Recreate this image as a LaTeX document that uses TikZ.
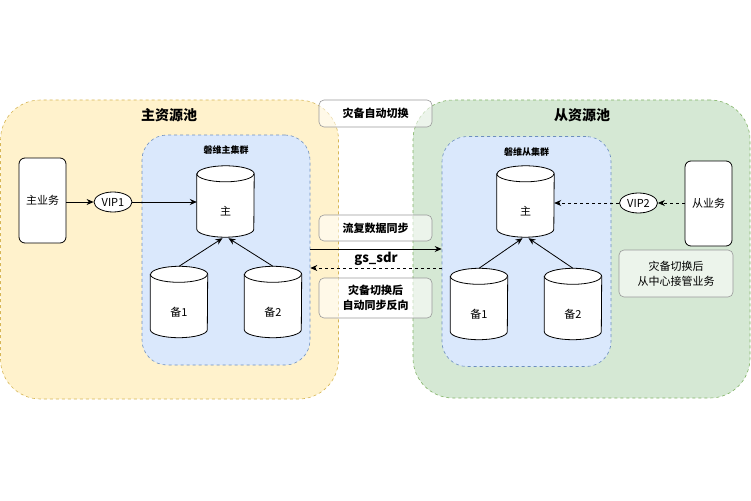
\documentclass[tikz,border=0pt]{standalone}
\usepackage{fontspec}
\setmainfont{Noto Sans CJK SC}
\usetikzlibrary{shapes.geometric,arrows.meta,calc}
\definecolor{poolY}{HTML}{FFF2CC}
\definecolor{poolYb}{HTML}{D6B656}
\definecolor{poolG}{HTML}{D5E8D4}
\definecolor{poolGb}{HTML}{82B366}
\definecolor{clB}{HTML}{DAE8FC}
\definecolor{clBb}{HTML}{6C8EBF}
\definecolor{boxb}{HTML}{999999}
\tikzset{
  pool/.style={draw, dashed, line width=0.6pt, rounded corners=40pt, inner sep=0},
  cluster/.style={draw=clBb, fill=clB, dashed, line width=0.6pt, rounded corners=25pt, inner sep=0},
  biz/.style={draw, fill=white, line width=0.8pt, rounded corners=6pt, minimum width=47pt, minimum height=85pt, inner sep=0, font=\fontsize{11}{13}\selectfont},
  vip/.style={ellipse, draw, fill=white, line width=0.8pt, minimum width=38pt, minimum height=20pt, inner sep=0, font=\fontsize{11}{13}\selectfont},
  note/.style={draw=boxb, fill=white, fill opacity=0.55, text opacity=1, line width=0.6pt, rounded corners=5pt, minimum width=113pt, inner sep=0, align=center},
  dbbox/.style={minimum width=57pt, minimum height=71pt, inner sep=0},
  arr/.style={line width=0.8pt, -{Stealth[length=7pt,width=6pt]}},
  darr/.style={arr, dash pattern=on 3pt off 3pt},
  title/.style={font=\bfseries\fontsize{14}{16}\selectfont},
  ctitle/.style={font=\bfseries\fontsize{9}{11}\selectfont},
  txt/.style={font=\fontsize{11}{13}\selectfont},
}
\newcommand\dbcyl[4]{%
  \node[dbbox] (#1) at (#2,#3) {};
  \filldraw[fill=white, line width=0.8pt]
    ($(#1.north west)+(0,8)$) -- ($(#1.south west)+(0,-8)$)
    arc[start angle=180, end angle=360, x radius=28.5pt, y radius=8pt]
    -- ($(#1.north east)+(0,8)$)
    arc[start angle=0, end angle=180, x radius=28.5pt, y radius=8pt] -- cycle;
  \draw[line width=0.8pt] ($(#1.north west)+(0,8)$)
    arc[start angle=180, end angle=360, x radius=28.5pt, y radius=8pt];
  \node[txt] (#1-t) at ($(#1.center)+(0,10)$) {#4};
}
\begin{document}
\begin{tikzpicture}[x=1pt,y=-1pt]
\useasboundingbox (0,0) rectangle (751,500);
% pools
\node[pool, draw=poolYb, fill=poolY, minimum width=338pt, minimum height=299pt] (py) at (169.5,249.5) {};
\node[pool, draw=poolGb, fill=poolG, minimum width=337pt, minimum height=298pt] (pg) at (581.5,249) {};
\node[title] (pyt) at (169,115) {主资源池};
\node[title] (pgt) at (582,115) {从资源池};
% clusters
\node[cluster, minimum width=168pt, minimum height=230pt] (lc) at (226,250) {};
\node[cluster, minimum width=169pt, minimum height=230pt] (rc) at (526.5,251.5) {};
\node[ctitle] (lct) at (226,150) {磐维主集群};
\node[ctitle] (rct) at (526.5,152) {磐维从集群};
% databases
\dbcyl{lm}{225.5}{201.5}{主}
\dbcyl{lb1}{179}{302}{备1}
\dbcyl{lb2}{273}{302}{备2}
\dbcyl{rm}{525.5}{201.5}{主}
\dbcyl{rb1}{479}{304}{备1}
\dbcyl{rb2}{573}{304}{备2}
\draw[arr] (lb1.north) -- ($(lm.south)+(-3,1)$);
\draw[arr] (lb2.north) -- ($(lm.south)+(3,1)$);
\draw[arr] (rb1.north) -- ($(rm.south)+(-3,1)$);
\draw[arr] (rb2.north) -- ($(rm.south)+(3,1)$);
% business
\node[biz] (zb) at (42.5,200.5) {主业务};
\node[vip] (v1) at (113,202) {VIP1};
\draw[arr] (zb.east |- v1) -- (v1.west);
\draw[arr] (v1.east) -- (lm.west |- v1);
\node[biz] (cb) at (708.5,203.5) {从业务};
\node[vip] (v2) at (638.5,203) {VIP2};
\draw[darr] (cb.west |- v2) -- (v2.east);
\draw[darr] (v2.west) -- (rm.east |- v2);
\node[note, minimum width=114pt, minimum height=47pt, font=\fontsize{11}{15}\selectfont] (tk) at (676,273.5) {灾备切换后\\从中心接管业务};
% middle
\node[note, minimum height=27pt, font=\bfseries\fontsize{11}{13}\selectfont] (n1) at (375.5,113.5) {灾备自动切换};
\node[note, minimum height=26pt, font=\bfseries\fontsize{11}{13}\selectfont] (n2) at (375.5,228) {流复数据同步};
\node[note, minimum height=40pt, font=\bfseries\fontsize{11}{15}\selectfont] (n3) at (375.5,298) {灾备切换后\\自动同步反向};
\coordinate (s1) at (376,249);
\coordinate (s2) at (376,268);
\draw[arr] (lc.east |- s1) -- (rc.west |- s1);
\draw[darr] (rc.west |- s2) -- (lc.east |- s2);
\node[font=\bfseries\fontsize{13}{15}\selectfont] (gs) at (376,258.5) {gs\_sdr};
\end{tikzpicture}
\end{document}
